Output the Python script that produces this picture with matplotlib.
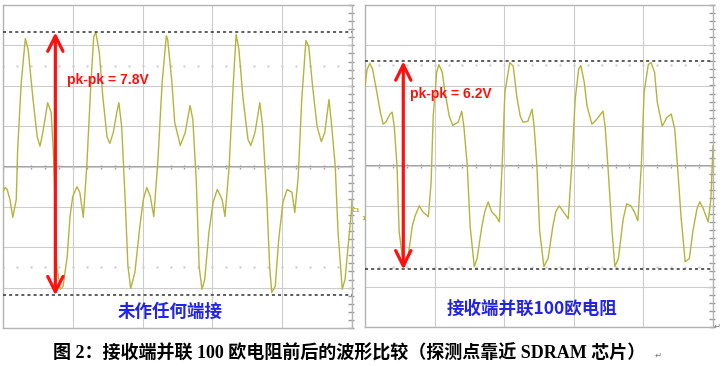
import matplotlib
matplotlib.use("Agg")
import matplotlib.pyplot as plt
import numpy as np

# waveform samples, x in horizontal divisions (0..5), y in vertical divisions (-4..4)
left_x = [0.00, 0.03, 0.06, 0.10, 0.14, 0.19, 0.21, 0.26, 0.32, 0.36, 0.43, 0.49, 0.53, 0.57, 0.64, 0.69,
          0.72, 0.75, 0.77, 0.82, 0.86, 0.92, 0.96, 1.00, 1.06, 1.10, 1.15, 1.20, 1.26, 1.30, 1.33, 1.38,
          1.43, 1.49, 1.53, 1.58, 1.63, 1.66, 1.70, 1.75, 1.79, 1.83, 1.89, 1.96, 2.01, 2.06, 2.11, 2.16,
          2.22, 2.28, 2.34, 2.36, 2.42, 2.46, 2.54, 2.61, 2.68, 2.72, 2.77, 2.81, 2.85, 2.89, 2.95, 3.01,
          3.07, 3.14, 3.18, 3.24, 3.30, 3.34, 3.38, 3.44, 3.51, 3.55, 3.61, 3.68, 3.72, 3.78, 3.82, 3.85,
          3.90, 3.95, 4.01, 4.07, 4.14, 4.18, 4.23, 4.28, 4.34, 4.38, 4.44, 4.50, 4.56, 4.61, 4.67, 4.71,
          4.76, 4.80, 4.86, 4.90, 4.94, 4.99, 5.00]
left_y = [-0.62, -0.52, -0.57, -0.82, -1.26, -0.82, 0.42, 2.05, 3.17, 2.90, 1.66, 0.74, 0.50, 0.84, 1.58, 1.34,
          0.42, -0.99, -2.48, -3.04, -2.97, -2.23, -1.24, -0.74, -0.50, -0.64, -1.26, 0.00, 2.08, 3.22, 3.32, 2.82,
          1.73, 0.74, 0.57, 0.84, 1.34, 1.58, 0.99, -0.82, -2.48, -3.02, -2.62, -1.49, -0.82, -0.52, -0.74, -1.24,
          0.17, 2.08, 3.24, 3.14, 2.08, 1.09, 0.52, 0.84, 1.51, 1.16, -0.40, -2.48, -3.04, -2.80, -1.63, -0.89,
          -0.57, -0.82, -1.24, 0.00, 2.08, 3.27, 2.90, 1.66, 0.67, 0.52, 0.84, 1.58, 0.99, -0.82, -2.48, -3.12,
          -2.97, -1.81, -0.89, -0.57, -0.64, -1.14, -0.25, 1.66, 3.12, 2.97, 1.91, 0.99, 0.62, 0.84, 1.66, 0.99,
          0.00, -1.63, -3.04, -2.80, -2.05, -1.14, -0.82]

right_x = [0.00, 0.03, 0.07, 0.11, 0.17, 0.22, 0.26, 0.30, 0.36, 0.39, 0.42, 0.46, 0.49, 0.55, 0.57, 0.62,
           0.68, 0.72, 0.78, 0.83, 0.91, 0.95, 0.98, 1.03, 1.06, 1.11, 1.15, 1.21, 1.26, 1.34, 1.39, 1.42,
           1.47, 1.51, 1.57, 1.61, 1.68, 1.72, 1.77, 1.82, 1.88, 1.93, 1.97, 2.01, 2.08, 2.13, 2.18, 2.23,
           2.27, 2.34, 2.40, 2.43, 2.47, 2.51, 2.57, 2.63, 2.70, 2.74, 2.79, 2.84, 2.92, 2.97, 3.02, 3.07,
           3.10, 3.15, 3.19, 3.26, 3.33, 3.42, 3.45, 3.49, 3.55, 3.59, 3.64, 3.71, 3.76, 3.82, 3.87, 3.92,
           3.97, 4.01, 4.07, 4.11, 4.16, 4.20, 4.27, 4.34, 4.40, 4.45, 4.49, 4.54, 4.60, 4.66, 4.71, 4.77,
           4.81, 4.86, 4.93, 4.97, 5.00]
right_y = [1.98, 2.40, 2.55, 2.40, 1.83, 1.34, 1.04, 1.09, 1.29, 1.34, 0.99, 0.00, -1.63, -2.43, -2.50, -2.23,
           -1.49, -1.24, -0.99, -1.14, -1.26, -0.40, 1.24, 2.33, 2.52, 2.33, 1.83, 1.24, 1.01, 1.09, 1.36, 0.99,
           0.00, -1.49, -2.50, -2.30, -1.49, -1.14, -0.89, -1.14, -1.24, -1.39, 0.00, 1.83, 2.57, 2.48, 1.73, 1.24,
           1.09, 1.11, 1.41, 0.99, 0.00, -1.63, -2.50, -2.30, -1.49, -1.14, -0.99, -1.11, -1.31, 0.00, 1.66, 2.40,
           2.50, 2.08, 1.49, 1.04, 1.16, 1.36, 0.99, 0.00, -1.63, -2.50, -2.30, -1.31, -0.94, -0.99, -1.14, -1.36,
           0.00, 1.83, 2.52, 2.57, 2.33, 1.58, 0.99, 1.21, 1.29, 0.92, 0.00, -1.24, -2.38, -2.30, -1.63, -1.06,
           -0.89, -1.06, -1.39, -0.82, 0.50]

# peak / trough cursor levels and annotations
left_levels = (3.32, -3.19)
right_levels = (2.60, -2.57)
left_pkpk = "pk-pk = 7.8V"
right_pkpk = "pk-pk = 6.2V"
left_label = "未作任何端接"
right_label = "接收端并联100欧电阻"
caption = "图 2：接收端并联 100 欧电阻前后的波形比较（探测点靠近 SDRAM 芯片）"

trace_col = "#b4b43c"
cjk = ["Noto Sans CJK SC", "DejaVu Sans"]

fig = plt.figure(figsize=(7.23, 3.66), dpi=100)
W, H = 723.0, 366.0


def scope(ax, xs, ys, levels, arrow_x, txt, txt_pos, label, label_pos):
    ax.set_xlim(0, 5)
    ax.set_ylim(-4, 4)
    ax.set_xticks(range(6))
    ax.set_yticks(range(-4, 5))
    ax.tick_params(length=0, labelbottom=False, labelleft=False)
    ax.grid(True, color="#cccccc", lw=0.8)
    for s in ax.spines.values():
        s.set_color("#b4b4b4")
        s.set_linewidth(1.0)
    ax.axhline(0, color="#9a9a9a", lw=1.3, zorder=1)
    # graticule ticks on centre line and right edge
    tx = np.arange(0, 5.01, 0.2)
    ax.plot(tx, np.zeros_like(tx), ls="none", marker="|", ms=3.5, color="#9a9a9a", zorder=1)
    ty = np.arange(-4, 4.01, 0.2)
    ax.plot(np.full_like(ty, 4.985), ty, ls="none", marker="_", ms=4, color="#9a9a9a",
            zorder=1, clip_on=False)
    for yy in (2.5, -2.5):
        ax.plot(tx, np.full_like(tx, yy), ls="none", marker=".", ms=1.5, color="#d2d2d2", zorder=1)

    ax.plot(xs, ys, color=trace_col, lw=1.0, zorder=3)
    for lv in levels:
        ax.axhline(lv, color="#333333", lw=1.1, ls=(0, (2, 2)), zorder=4)
    ax.annotate("", xy=(arrow_x, levels[0]), xytext=(arrow_x, levels[1]),
                arrowprops=dict(arrowstyle="<->,head_length=1.1,head_width=0.55",
                                color="#ff1010", lw=2.3, shrinkA=0, shrinkB=0),
                zorder=5)
    ax.text(txt_pos[0], txt_pos[1], txt, color="#ff1010", fontsize=10, fontweight="bold",
            family="Liberation Sans", ha="left", va="center", zorder=6)
    ax.text(label_pos[0], label_pos[1], label, color="#2323e6", fontsize=12.6, fontweight="bold",
            family=cjk, ha="center", va="center", zorder=6)


ax1 = fig.add_axes([3 / W, 1 - 328 / H, 349 / W, 323 / H])
scope(ax1, left_x, left_y, left_levels, 0.75, left_pkpk, (0.92, 2.15), left_label, (2.39, -3.59))

ax2 = fig.add_axes([365 / W, 1 - 327 / H, 348 / W, 322 / H])
scope(ax2, right_x, right_y, right_levels, 0.55, right_pkpk, (0.65, 1.78), right_label, (2.40, -3.54))

# channel markers
fig.text(351.5 / W, 1 - 211 / H, "C1", color=trace_col, fontsize=4.5, fontweight="bold",
         ha="left", va="center")
fig.text(361 / W, 1 - 219 / H, "1", color=trace_col, fontsize=4.5, fontweight="bold",
         ha="left", va="center")

fig.text(53 / W, 1 - 353 / H, caption, fontsize=13, fontweight="bold",
         family=["Liberation Serif", "Noto Sans CJK SC"], ha="left", va="center")
fig.text(655 / W, 1 - 355 / H, "\u21b5", fontsize=6, color="#777777", ha="left", va="center")
fig.text(714 / W, 1 - 326 / H, "\u21b5", fontsize=6, color="#777777", ha="left", va="center")

fig.savefig("out.png", dpi=100)
